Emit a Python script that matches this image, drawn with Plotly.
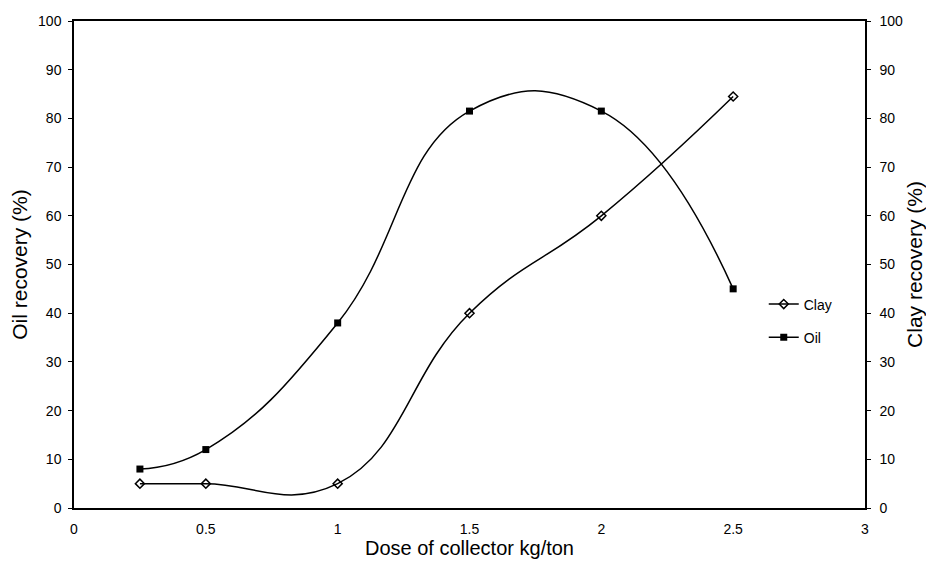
import plotly.graph_objects as go

dose = [0.25, 0.5, 1.0, 1.5, 2.0, 2.5]
clay = [5, 5, 5, 40, 60, 84.5]
oil = [8, 12, 38, 81.5, 81.5, 45]

xticks = [0, 0.5, 1, 1.5, 2, 2.5, 3]
xticklabels = ["0", "0.5", "1", "1.5", "2", "2.5", "3"]
yticks = list(range(0, 101, 10))

fnt = "Liberation Sans, Arial, sans-serif"

fig = go.Figure()
fig.add_trace(go.Scatter(
    x=dose, y=clay, name="Clay", yaxis="y2", legend="legend",
    mode="lines+markers", line=dict(color="black", width=1.5, shape="spline", smoothing=1.3),
    marker=dict(symbol="diamond-open", size=7, color="black", line=dict(width=1.5)),
))
fig.add_trace(go.Scatter(
    x=dose, y=oil, name="Oil", yaxis="y", legend="legend2",
    mode="lines+markers", line=dict(color="black", width=1.5, shape="spline", smoothing=1.3),
    marker=dict(symbol="square", size=7, color="black"),
))

fig.update_layout(
    width=926, height=566,
    margin=dict(l=74, r=61, t=21, b=58),
    paper_bgcolor="white", plot_bgcolor="white",
    font=dict(family=fnt, color="black", size=14),
    showlegend=True,
    legend=dict(x=0.872, y=0.418, xanchor="left", yanchor="middle",
                bgcolor="rgba(0,0,0,0)", font=dict(size=14), itemwidth=30),
    legend2=dict(x=0.872, y=0.35, xanchor="left", yanchor="middle",
                 bgcolor="rgba(0,0,0,0)", font=dict(size=14), itemwidth=30),
    xaxis=dict(range=[0, 3], tickvals=xticks, ticktext=xticklabels, automargin=False,
               showgrid=False, zeroline=False, showline=True, linecolor="black", linewidth=2,
               mirror=True, ticks="", ticklabelstandoff=7, tickfont=dict(size=14),
               title=dict(text="Dose of collector kg/ton", font=dict(size=20), standoff=5)),
    yaxis=dict(range=[0, 100], tickvals=yticks, showgrid=False, zeroline=False, automargin=False,
               showline=True, linecolor="black", linewidth=1.5, ticks="outside", ticklen=4,
               tickcolor="black", ticklabelstandoff=4, tickfont=dict(size=14),
               title=dict(text="Oil recovery (%)", font=dict(size=21), standoff=5)),
    yaxis2=dict(range=[0, 100], tickvals=yticks, overlaying="y", side="right", automargin=False,
                showgrid=False, zeroline=False, showline=True, linecolor="black", linewidth=1.5,
                ticks="outside", ticklen=4, tickcolor="black", ticklabelstandoff=6,
                tickfont=dict(size=14),
                title=dict(text="Clay recovery (%)", font=dict(size=21), standoff=14)),
)

fig.write_html("out.html")
